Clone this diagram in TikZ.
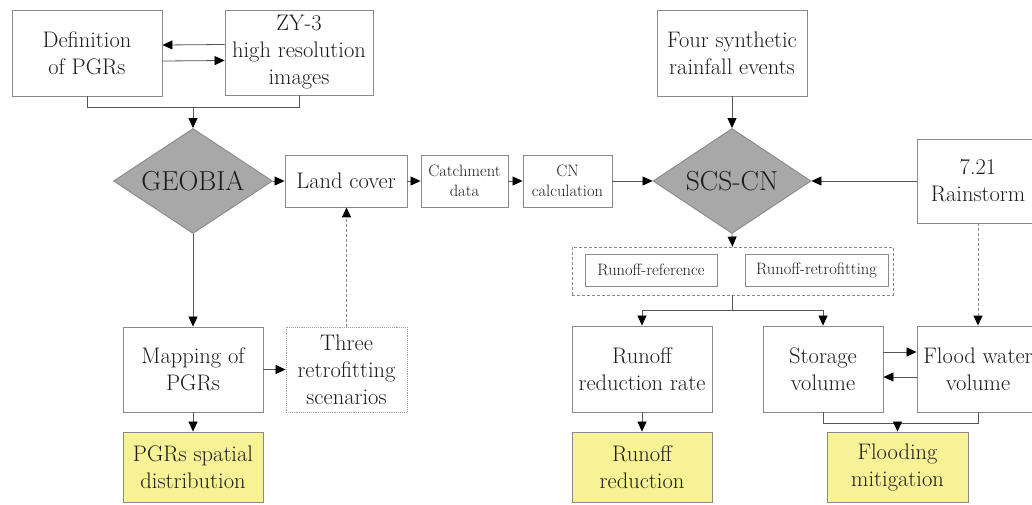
\documentclass[tikz,border=0pt]{standalone}
\usepackage{fontspec}
\usetikzlibrary{arrows.meta,shapes.geometric}
\definecolor{boxline}{HTML}{8A8A8A}
\definecolor{conn}{HTML}{555555}
\definecolor{txt}{HTML}{1C1C1C}
\definecolor{dia}{HTML}{A8A8A8}
\definecolor{yel}{RGB}{247,242,150}
\tikzset{
  box/.style={draw=boxline, line width=0.9pt, inner sep=0pt, align=center, text=txt,
    font=\fontsize{22.5}{27}\selectfont},
  smallbox/.style={box, font=\fontsize{16.5}{20}\selectfont},
  dia/.style={diamond, draw=boxline, fill=dia, line width=0.9pt, inner sep=0pt},
  diatext/.style={text=txt, font=\fontsize{27.5}{30}\selectfont},
  resbox/.style={box, fill=yel},
  tip/.style={-{Triangle[length=10pt,width=9pt,color=black]}},
  arr/.style={draw=conn, line width=0.8pt, tip},
  ln/.style={draw=conn, line width=0.8pt},
  darr/.style={draw=boxline, line width=1pt, dashed, dash pattern=on 3pt off 2pt, tip},
}
\begin{document}
\begin{tikzpicture}[x=1pt,y=-1pt]
\clip (0,0) rectangle (1032,504);
\fill[white] (0,0) rectangle (1032,504);
% top-left
\node[box, minimum width=150pt, minimum height=86pt] (def) at (87,53) {Definition\\of PGRs};
\node[box, minimum width=148pt, minimum height=85pt] (zy) at (299,52.5) {ZY-3\\high resolution\\images};
% diamonds
\node[dia, minimum width=159pt, minimum height=105pt] (geo) at (193,181) {};
\node[diatext] (geot) at (geo) {GEOBIA};
\node[dia, minimum width=158pt, minimum height=105pt] (scs) at (732,181) {};
\node[diatext] (scst) at (scs) {SCS-CN};
% middle row
\node[box, minimum width=122pt, minimum height=52pt] (land) at (346,181) {Land cover};
\node[smallbox, minimum width=87pt, minimum height=52pt] (catch) at (464.5,181) {Catchment\\data};
\node[smallbox, minimum width=89pt, minimum height=52pt] (cn) at (567.5,181) {CN\\calculation};
\node[box, minimum width=150pt, minimum height=86pt] (four) at (732,53) {Four synthetic\\rainfall events};
\node[box, minimum width=122pt, minimum height=84pt] (rain) at (978,181) {7.21\\Rainstorm};
% runoff group
\node[draw=boxline, line width=0.8pt, dashed, dash pattern=on 3pt off 2pt, minimum width=321pt, minimum height=48pt, inner sep=0pt] (grp) at (732.5,271) {};
\node[smallbox, minimum width=132pt, minimum height=32pt] (rref) at (651,270) {Runoff-reference};
\node[smallbox, minimum width=143pt, minimum height=32pt] (rret) at (816.5,270) {Runoff-retrofitting};
% lower row
\node[box, minimum width=140pt, minimum height=85pt] (map) at (193,369.5) {Mapping of\\PGRs};
\node[box, draw=boxline!80, densely dotted, minimum width=121pt, minimum height=85pt] (three) at (346.5,369.5) {Three\\retrofitting\\scenarios};
\node[box, minimum width=140pt, minimum height=86pt] (rrr) at (642,369) {Runoff\\reduction rate};
\node[box, minimum width=120pt, minimum height=86pt] (stor) at (823,369) {Storage\\volume};
\node[box, minimum width=122pt, minimum height=86pt] (flood) at (978,369) {Flood water\\volume};
% results
\node[resbox, minimum width=140pt, minimum height=70pt] (pgrs) at (193,467) {PGRs spatial\\distribution};
\node[resbox, minimum width=140pt, minimum height=70pt] (rred) at (642,467) {Runoff\\reduction};
\node[resbox, minimum width=141pt, minimum height=70pt] (fmit) at (897.5,467) {Flooding\\mitigation};
% connectors top-left
\draw[arr] ([yshift=8pt]zy.west) -- ([yshift=8pt]def.east);
\draw[arr] ([yshift=-8pt]def.east) -- ([yshift=-8pt]zy.west);
\coordinate (brk) at ([yshift=-11pt]def.south);
\draw[ln] (def.south) -- (brk) -| (zy.south);
\draw[arr] (brk -| geo.north) -- (geo.north);
% middle flow
\draw[arr] (geo.east) -- (land.west);
\draw[arr] (land.east) -- (catch.west);
\draw[arr] (catch.east) -- (cn.west);
\draw[arr] (cn.east) -- (scs.west);
\draw[arr] (four.south) -- (scs.north);
\draw[arr] (rain.west) -- (scs.east);
\draw[arr] (scs.south) -- (grp.north);
% split
\coordinate (split) at ([yshift=-15pt]grp.south);
\draw[ln] (grp.south) -- (split);
\draw[arr] (split) -| (rrr.north);
\draw[arr] (split) -| (stor.north);
\draw[darr] (rain.south) -- (flood.north);
\draw[arr] ([yshift=17pt]stor.east) -- ([yshift=17pt]flood.west);
\draw[arr] ([yshift=-8pt]flood.west) -- ([yshift=-8pt]stor.east);
\draw[arr] (rrr.south) -- (rred.north);
\coordinate (brk2) at ([yshift=-11pt]stor.south);
\draw[ln] (stor.south) -- (brk2) -| (flood.south);
\draw[arr] (brk2 -| fmit.north) -- (fmit.north);
% left lower
\draw[arr] (geo.south) -- (map.north);
\draw[arr] (map.east) -- (three.west);
\draw[darr] (three.north) -- (three.north |- land.south);
\draw[arr] (map.south) -- (pgrs.north);
\end{tikzpicture}
\end{document}
